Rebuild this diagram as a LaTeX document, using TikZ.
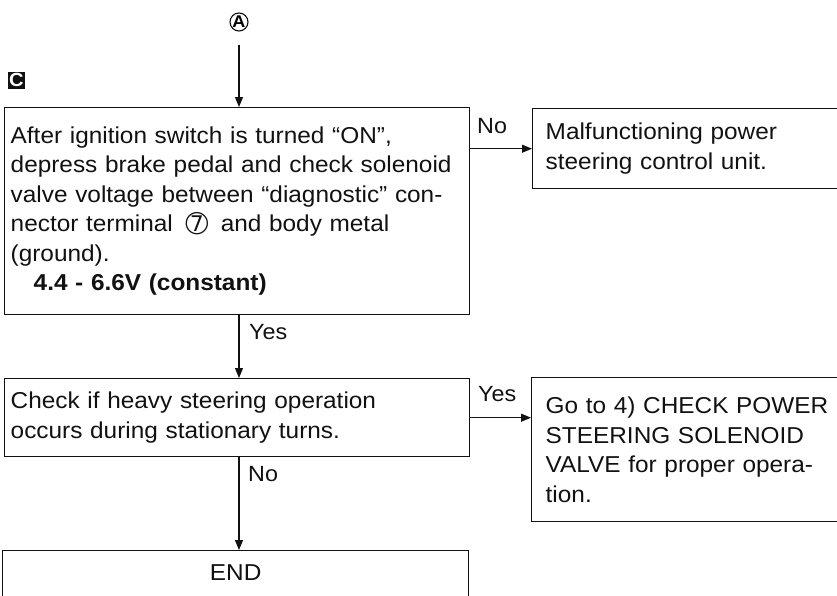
\documentclass[tikz,border=0pt]{standalone}
\usepackage{fontspec}
\setmainfont{Liberation Sans}[FakeStretch=1.06]
\newfontfamily\symfont{DejaVu Sans}
\usetikzlibrary{arrows.meta}
\definecolor{ink}{RGB}{17,17,17}

\tikzset{
  stepbox/.style={draw=ink, line width=1.4pt, anchor=north west, align=left,
    inner xsep=6pt, inner ysep=0pt, text=ink,
    font=\fontsize{23}{29.5}\selectfont},
  flow/.style={draw=ink, line width=1.1pt, -{Triangle[length=10pt,width=8pt]}},
  answer/.style={anchor=west, inner sep=0pt, text=ink,
    font=\fontsize{22}{26}\selectfont},
}

% circled terminal number inside the text
\newcommand{\circnum}{\hspace{5pt}{\symfont\fontsize{27}{27}\selectfont\raisebox{-1.5pt}{➆}}\hspace{5pt}}

\begin{document}
\begin{tikzpicture}[x=1pt, y=-1pt]

% ── Page frame (pixel units, y down) ─────────────────────────────────
\useasboundingbox (0,0) rectangle (837,595);

% ── Entry marks ──────────────────────────────────────────────────────
\node[draw=ink, circle, line width=1.1pt, inner sep=0pt, minimum size=18pt,
  font=\fontsize{17}{17}\selectfont\bfseries] (A) at (239,22) {A};
\node[fill=ink, text=white, minimum size=17pt, inner sep=0pt,
  font=\fontsize{19}{19}\selectfont\bfseries] (secC) at (16.5,80) {C};

% ── Check boxes ──────────────────────────────────────────────────────
\node[stepbox, text width=453pt, minimum height=207pt] (b1) at (4,107)
  {After ignition switch is turned ``ON'',\\
   depress brake pedal and check solenoid\\
   valve voltage between ``diagnostic'' con-\\
   nector terminal \circnum\ and body metal\\
   (ground).\\
   \hspace*{1em}\textbf{4.4 - 6.6V (constant)}};
\node[stepbox, text width=287pt, inner xsep=13pt, minimum height=80pt] (b2) at (532,108)
  {Malfunctioning power\\
   steering control unit.};
\node[stepbox, text width=453pt, minimum height=78pt] (b3) at (4,378)
  {Check if heavy steering operation\\
   occurs during stationary turns.};
\node[stepbox, text width=286pt, inner xsep=14pt, minimum height=144pt] (b4) at (531,377)
  {Go to 4) CHECK POWER\\
   STEERING SOLENOID\\
   VALVE for proper opera-\\
   tion.};
\node[stepbox, text width=454pt, align=center, inner ysep=14pt,
  text height=16pt, text depth=30pt] (bEnd) at (2,550) {END};

% ── Connectors ───────────────────────────────────────────────────────
\draw[flow, shorten <=13pt] (A) -- (A |- b1.north);
\draw[flow] (b1.east |- b2.west) -- (b2.west);
\draw[flow] (b1.south -| A) -- (b3.north -| A);
\draw[flow] (b3.east) -- (b4.west |- b3.east);
\draw[flow] (b3.south -| A) -- (bEnd.north -| A);

% ── Answer labels ────────────────────────────────────────────────────
\node[answer] (noTop)  at (477,126) {No};
\node[answer] (yesMid) at (249,332) {Yes};
\node[answer] (yesRt)  at (478,394) {Yes};
\node[answer] (noBot)  at (248,474) {No};

\end{tikzpicture}
\end{document}
